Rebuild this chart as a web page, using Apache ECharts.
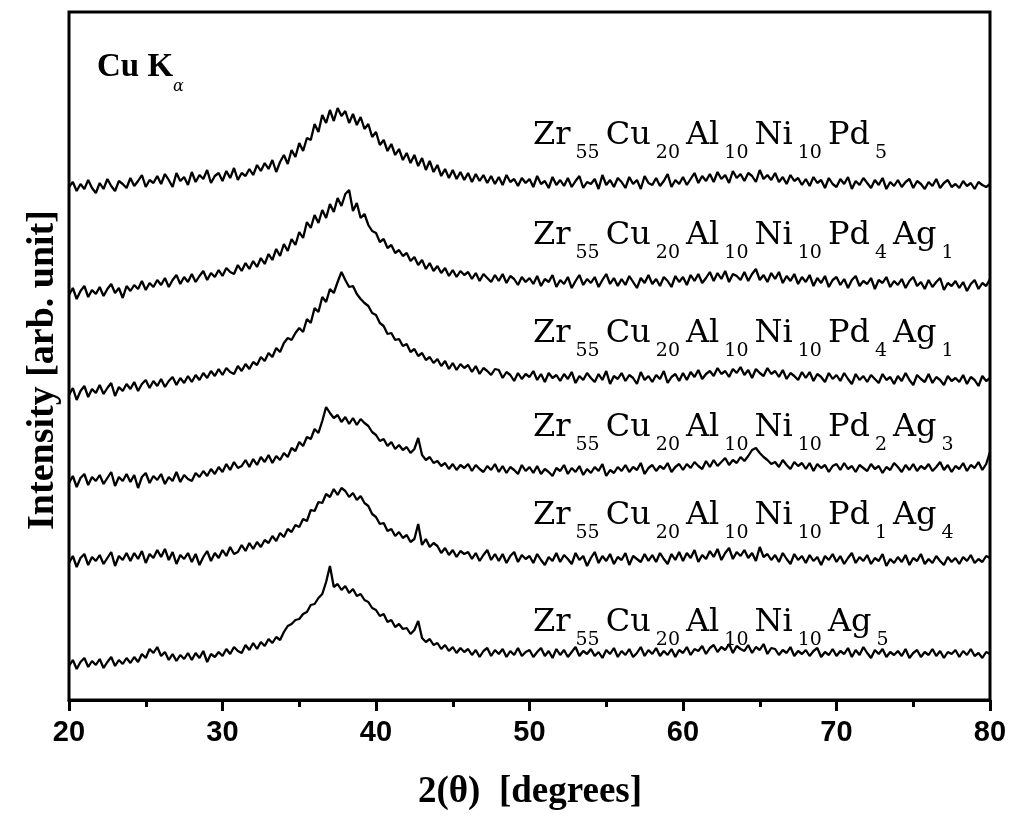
<!DOCTYPE html>
<html><head><meta charset="utf-8">
<script src="https://cdn.jsdelivr.net/npm/echarts@6/dist/echarts.min.js"></script>
<style>html,body{margin:0;padding:0;background:#fff}#c{width:1019px;height:819px}</style>
</head><body><div id="c"></div>
<script>
// 2θ scan grid (degrees)
const scanStart = 20, scanStep = 0.25;
const xTickValues = [20, 30, 40, 50, 60, 70, 80];

// Sample compositions (element, at.%), top to bottom
const compositions = [
  [['Zr',55],['Cu',20],['Al',10],['Ni',10],['Pd',5]],
  [['Zr',55],['Cu',20],['Al',10],['Ni',10],['Pd',4],['Ag',1]],
  [['Zr',55],['Cu',20],['Al',10],['Ni',10],['Pd',4],['Ag',1]],
  [['Zr',55],['Cu',20],['Al',10],['Ni',10],['Pd',2],['Ag',3]],
  [['Zr',55],['Cu',20],['Al',10],['Ni',10],['Pd',1],['Ag',4]],
  [['Zr',55],['Cu',20],['Al',10],['Ni',10],['Ag',5]]
];

// Stacked intensities (arb. unit), 20..80 deg every 0.25 deg
const pd5 = [
513,518,509,516,511,520,512,507, 517,511,521,514,509,519,516,512,
522,514,519,525,513,520,517,524, 516,526,520,513,527,519,523,515,
528,518,525,521,530,517,524,527, 519,529,522,532,520,527,524,531,
525,535,529,537,531,540,528,538, 545,536,550,543,557,549,562,560,
576,568,585,577,590,579,592,584, 589,577,586,575,583,571,576,563,
568,555,560,549,556,545,551,540, 547,537,545,534,542,530,539,528,
535,524,531,522,530,521,528,520, 527,518,526,519,525,517,524,516,
523,515,525,518,521,514,522,517, 521,513,524,516,519,512,523,515,
520,514,522,513,519,524,512,518, 516,521,511,525,515,520,513,522,
518,512,523,516,520,511,524,517, 515,522,514,519,526,513,520,516,
523,515,521,527,517,524,519,526, 518,528,521,525,517,529,522,526,
519,527,524,518,530,521,525,520, 527,518,523,516,525,519,522,515,
521,514,523,517,520,512,522,516, 513,521,516,523,511,519,515,522,
517,512,520,515,522,511,518,514, 520,513,518,521,512,519,516,511,
518,514,521,512,517,520,513,516, 512,519,514,517,511,518,515,513,
516];
const pd4ag1a = [
405,412,401,409,414,403,410,406, 413,404,411,416,407,412,402,414,
409,415,411,419,410,417,413,420, 415,422,413,420,425,416,423,418,
426,418,424,429,420,427,423,430, 424,432,428,426,435,429,437,431,
439,433,442,436,446,440,451,444, 456,449,461,455,468,462,478,472,
485,477,490,482,496,488,502,494, 506,510,489,497,482,486,475,469,
467,458,461,452,455,447,450,444, 447,439,443,435,440,431,437,429,
434,427,432,424,430,423,429,425, 428,421,427,419,426,422,418,425,
419,426,417,424,421,415,423,418, 422,416,424,414,421,418,425,413,
420,416,423,412,419,425,415,421, 417,423,413,420,426,416,422,414,
421,415,424,418,412,422,417,425, 416,421,414,423,419,413,424,418,
423,415,425,419,426,417,422,428, 419,427,421,429,418,426,424,420,
428,419,426,431,420,425,418,427, 421,428,417,424,419,426,416,423,
418,425,414,422,417,424,413,420, 423,415,421,412,420,424,414,419,
416,422,411,420,417,423,413,419, 415,421,412,419,423,414,418,411,
420,413,418,422,410,417,414,419, 412,418,409,416,420,411,417,414,
421];
const pd4ag1b = [
305,312,300,309,314,303,311,307, 315,306,312,317,304,313,309,316,
311,318,309,316,320,312,319,314, 321,313,319,323,315,322,317,324,
318,325,320,327,322,329,324,331, 325,332,328,326,334,329,336,331,
338,335,343,339,347,343,352,348, 357,362,360,367,372,368,381,377,
392,388,403,398,411,407,418,428, 420,413,414,406,401,397,394,387,
385,377,374,366,367,360,361,354, 356,348,351,344,347,340,343,337,
341,334,339,331,337,330,336,332, 335,328,334,326,332,329,325,331,
330,322,328,325,319,327,321,326, 323,329,320,326,318,327,322,325,
319,326,321,328,317,324,320,327, 322,318,326,320,329,316,324,321,
327,319,325,322,316,328,320,324, 318,325,321,329,317,323,326,319,
327,320,328,323,330,321,326,329, 324,332,326,329,323,331,327,333,
325,330,322,331,327,324,332,326, 329,323,330,321,327,324,320,328,
322,328,319,326,323,318,327,321, 325,319,327,321,316,326,320,324,
318,325,321,317,326,320,323,316, 324,319,327,320,315,325,321,318,
326,317,323,320,315,324,319,322, 318,325,316,323,320,314,324,319,
322];
const pd2ag3 = [
217,224,213,222,226,215,223,219, 225,216,222,228,214,223,219,226,
218,225,212,223,227,217,224,220, 226,216,223,219,228,218,225,221,
219,227,223,229,224,231,226,233, 228,236,230,238,232,234,240,233,
241,235,243,238,245,237,244,240, 247,243,252,249,258,254,263,261,
271,267,279,293,287,282,285,278, 283,276,282,275,281,277,274,268,
265,259,261,254,258,251,255,250, 253,247,251,262,245,240,243,237,
239,234,237,231,236,230,235,232, 236,229,235,231,228,234,230,236,
228,234,227,233,230,226,235,229, 233,227,234,226,231,228,224,232,
229,235,226,232,228,234,225,231, 227,233,229,236,224,230,227,233,
229,235,228,233,230,237,226,232, 235,229,234,231,237,228,233,236,
230,236,232,238,234,231,239,233, 240,234,238,242,235,240,237,243,
239,244,250,252,247,243,240,236, 238,233,240,235,231,238,234,237,
231,237,229,236,232,235,228,234, 236,230,237,231,234,228,235,232,
229,236,231,234,227,233,230,237, 233,228,235,230,236,229,234,231,
236,229,233,238,230,235,228,234, 231,237,229,235,232,238,230,236,
248];
const pd1ag4 = [
137,144,133,142,146,135,143,139, 145,136,142,148,134,144,140,147,
139,147,141,149,137,146,142,150, 143,151,140,148,136,145,141,147,
138,146,135,143,149,139,147,142, 150,144,153,146,148,155,149,157,
151,158,153,160,157,164,159,167, 163,171,168,175,173,181,179,190,
189,198,197,206,203,211,205,212, 209,203,207,200,204,197,194,186,
183,176,177,169,171,164,168,162, 165,158,161,176,155,161,153,157,
154,147,152,145,150,143,149,146, 148,141,147,139,145,150,140,146,
139,146,137,144,148,138,145,141, 144,137,146,140,135,143,139,147,
138,145,141,136,147,140,144,134, 142,148,137,144,139,146,136,143,
140,147,135,144,141,138,146,139, 145,138,147,141,136,146,140,148,
139,147,142,150,138,145,141,149, 143,151,140,147,152,141,148,144,
150,142,147,139,153,143,146,140, 145,138,147,141,136,146,140,144,
137,145,139,143,135,144,140,146, 138,144,136,142,147,137,143,139,
145,136,142,139,146,134,141,137, 143,138,145,135,142,139,146,136,
141,137,144,139,135,143,138,142, 136,143,139,145,137,141,138,144,
142];
const ag5 = [
34,40,31,38,42,33,39,35, 41,32,38,43,34,40,36,42,
37,43,38,46,42,51,47,53, 44,48,40,46,39,45,41,47,
40,47,42,49,38,46,43,48, 44,51,46,53,49,47,55,50,
57,51,58,54,61,57,63,60, 68,74,76,80,81,86,88,95,
96,102,106,118,134,113,116,110, 114,107,111,104,106,100,98,92,
90,84,86,78,80,73,76,71, 72,66,70,79,62,58,61,55,
57,51,55,49,53,47,52,48, 51,45,50,43,49,52,44,50,
46,51,43,49,45,52,44,48, 50,43,48,52,44,49,42,51,
45,50,43,48,53,44,49,46, 51,44,48,42,50,46,52,43,
49,45,51,43,47,53,44,50, 46,52,44,49,45,51,43,50,
47,53,45,51,49,54,46,52, 55,48,53,50,56,47,54,51,
49,55,47,53,50,56,46,52, 51,45,50,47,53,44,49,46,
50,44,49,52,43,48,45,51, 44,49,46,52,43,50,45,53,
47,42,50,46,51,43,48,45, 49,44,51,42,47,50,43,48,
45,51,44,49,42,48,46,50, 43,49,45,51,44,47,42,48,
46];

const seriesValues = [pd5, pd4ag1a, pd4ag1b, pd2ag3, pd1ag4, ag5];
const radiationLabel = 'Cu K';
const radiationSub = 'α';
const xTitle = '2(θ)  [degrees]';
const yTitle = 'Intensity [arb. unit]';

function plainName(c) { return c.map(p => p[0] + p[1]).join(''); }
function richName(c) { return c.map(p => '{n|' + p[0] + '}{s|' + p[1] + '}').join(''); }

const chart = echarts.init(document.getElementById('c'), null, {renderer: 'canvas'});

const labelTops = [120, 220, 318, 412, 500, 607];
const richStyles = {
  n: {fontFamily: 'DejaVu Serif', fontSize: 32, lineHeight: 53, fill: '#000', padding: [0, 5, 0, 2]},
  s: {fontFamily: 'DejaVu Serif', fontSize: 19, lineHeight: 6, verticalAlign: 'bottom', fill: '#000', padding: [0, 4, 0, 0]}
};

const graphics = compositions.map((c, i) => ({
  type: 'text', left: 531, top: labelTops[i], silent: true,
  style: {text: richName(c), rich: richStyles, fill: '#000'}
}));
graphics.push({
  type: 'text', left: 97, top: 51, silent: true,
  style: {
    text: '{n|' + radiationLabel + '}{a|' + radiationSub + '}',
    rich: {
      n: {fontFamily: 'Liberation Serif', fontWeight: 'bold', fontSize: 33, lineHeight: 54, fill: '#000'},
      a: {fontFamily: 'DejaVu Serif', fontStyle: 'italic', fontSize: 16, lineHeight: 2, verticalAlign: 'bottom', fill: '#000'}
    }
  }
});
graphics.push({
  type: 'text', x: 43, y: 370, rotation: Math.PI / 2, silent: true,
  style: {text: yTitle, fontFamily: 'Liberation Serif', fontWeight: 'bold', fontSize: 38,
          fill: '#000', align: 'center', verticalAlign: 'middle'}
});
graphics.push({
  type: 'text', x: 530, y: 792, silent: true,
  style: {text: xTitle, fontFamily: 'Liberation Serif', fontWeight: 'bold', fontSize: 37,
          fill: '#000', align: 'center', verticalAlign: 'middle'}
});

chart.setOption({
  animation: false,
  backgroundColor: '#fff',
  grid: {show: true, left: 69, right: 29, top: 12, bottom: 119, borderColor: '#000', borderWidth: 3, backgroundColor: 'transparent'},
  xAxis: {
    type: 'value', min: xTickValues[0], max: xTickValues[xTickValues.length - 1], interval: 10,
    axisLine: {show: true, lineStyle: {color: '#000', width: 3}},
    axisTick: {show: true, inside: false, length: 11, lineStyle: {color: '#000', width: 3}},
    minorTick: {show: true, splitNumber: 2, length: 7, lineStyle: {color: '#000', width: 3}},
    splitLine: {show: false}, minorSplitLine: {show: false},
    axisLabel: {color: '#000', fontFamily: 'Liberation Sans', fontWeight: 'bold', fontSize: 29, margin: 18,
                formatter: v => String(v)}
  },
  yAxis: {type: 'value', min: 0, max: 688, show: false},
  series: seriesValues.map((vals, i) => ({
    type: 'line', name: plainName(compositions[i]), showSymbol: false, symbol: 'none',
    lineStyle: {color: '#000', width: 2.3}, clip: true,
    data: vals.map((v, k) => [scanStart + k * scanStep, v])
  })),
  graphic: graphics
});
</script></body></html>
